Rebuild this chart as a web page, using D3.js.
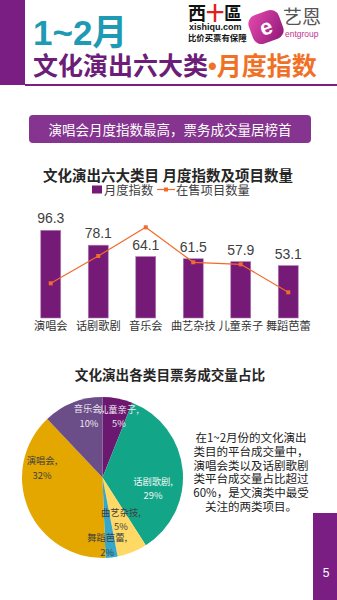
<!DOCTYPE html>
<html><head><meta charset="utf-8">
<script src="https://cdn.jsdelivr.net/npm/d3@7"></script>
<style>
body{margin:0;background:#fff}
svg{display:block}
text{font-family:"Noto Sans CJK SC","Liberation Sans",sans-serif}
</style>
</head><body>
<svg id="c" width="337" height="600"></svg>
<script>
// ---------- data ----------
const barCategories = ["演唱会","话剧歌剧","音乐会","曲艺杂技","儿童亲子","舞蹈芭蕾"];
const indexValues   = [96.3, 78.1, 64.1, 61.5, 57.9, 53.1];
const projectCounts = [347, 620, 907, 557, 537, 257];
const seriesNames   = ["月度指数","在售项目数量"];

const pieCategories = ["儿童亲子","话剧歌剧","曲艺杂技","舞蹈芭蕾","演唱会","音乐会"];
const pieShares     = [5, 29, 5, 2, 32, 10];

const noteLines = ["在1~2月份的文化演出","类目的平台成交量中，","演唱会类以及话剧歌剧","类平台成交量占比超过","60%，是文演类中最受","关注的两类项目。"];

// ---------- setup ----------
const svg = d3.select("#c");
const PURPLE = "#7a1e84";

// header
svg.append("rect").attr("x",0).attr("y",0).attr("width",25).attr("height",85).attr("fill",PURPLE);
svg.append("rect").attr("x",25).attr("y",84).attr("width",312).attr("height",2).attr("fill",PURPLE);
svg.append("text").attr("x",33).attr("y",45)
  .attr("font-size",35).attr("font-weight",700).attr("fill","#1f9ab4")
  .style("font-family","'Liberation Sans','Noto Sans CJK SC',sans-serif")
  .text("1~2月");
const t2 = svg.append("text").attr("x",33).attr("y",75).attr("font-size",25).attr("font-weight",700);
t2.append("tspan").attr("fill","#6c1d78").text("文化演出六大类");
t2.append("tspan").attr("fill","#f07025").style("font-family","'Liberation Sans',sans-serif").text("•");
t2.append("tspan").attr("fill","#f07025").text("月度指数");

// logos
const l1 = svg.append("text").attr("x",188).attr("y",20).attr("font-size",18).attr("font-weight",700);
l1.append("tspan").attr("fill","#111").text("西");
l1.append("tspan").attr("fill","#e0201a").text("十");
l1.append("tspan").attr("fill","#111").text("區");
svg.append("text").attr("x",189).attr("y",30).attr("font-size",9).attr("font-weight",700).attr("fill","#111")
  .style("font-family","'Liberation Sans',sans-serif").text("xishiqu.com");
svg.append("text").attr("x",188).attr("y",40.5).attr("font-size",8.4).attr("font-weight",700).attr("fill","#111").text("比价买票有保障");

const defs = svg.append("defs");
const g1 = defs.append("linearGradient").attr("id","mg").attr("x1",0).attr("y1",0).attr("x2",1).attr("y2",1);
g1.append("stop").attr("offset","0%").attr("stop-color","#e64aae");
g1.append("stop").attr("offset","100%").attr("stop-color","#8e1877");
svg.append("rect").attr("x",-16).attr("y",-15).attr("width",32).attr("height",30).attr("rx",9)
  .attr("transform","translate(266,27) rotate(-20)").attr("fill","url(#mg)");
svg.append("text").attr("x",266).attr("y",27).attr("text-anchor","middle").attr("dominant-baseline","central")
  .attr("font-size",22).attr("font-weight",700).attr("fill","#fff")
  .attr("transform","rotate(-20,266,27)")
  .style("font-family","'Liberation Sans',sans-serif").text("e");
svg.append("text").attr("x",283).attr("y",24).attr("font-size",19).attr("fill","#555").text("艺恩");
svg.append("text").attr("x",285).attr("y",37).attr("font-size",8.5).attr("fill","#c2338f")
  .style("font-family","'Liberation Sans',sans-serif").text("entgroup");

// banner
svg.append("rect").attr("x",29).attr("y",115).attr("width",282).attr("height",28).attr("rx",4).attr("fill","#85358f");
svg.append("text").attr("x",170).attr("y",129).attr("text-anchor","middle").attr("dominant-baseline","central")
  .attr("font-size",13.5).attr("fill","#fff").text("演唱会月度指数最高，票务成交量居榜首");

// ---------- bar + line chart ----------
svg.append("text").attr("x",168).attr("y",174.5).attr("text-anchor","middle").attr("dominant-baseline","central")
  .attr("font-size",14.5).attr("font-weight",700).attr("fill","#262626").text("文化演出六大类目 月度指数及项目数量");

// legend
const lg = svg.append("g");
lg.append("rect").attr("x",92).attr("y",185.5).attr("width",10).attr("height",8).attr("fill","#761a78");
lg.append("text").attr("x",104).attr("y",189.5).attr("dominant-baseline","central").attr("font-size",12.3).attr("fill","#404040").text(seriesNames[0]);
lg.append("line").attr("x1",157).attr("x2",175).attr("y1",189.5).attr("y2",189.5).attr("stroke","#f26b2d").attr("stroke-width",1.2);
lg.append("rect").attr("x",164).attr("y",187.5).attr("width",4).attr("height",4).attr("fill","#f26b2d");
lg.append("text").attr("x",176).attr("y",189.5).attr("dominant-baseline","central").attr("font-size",12.3).attr("fill","#404040").text(seriesNames[1]);

const x = d3.scaleBand().domain(barCategories).range([27,312]).paddingInner(0.58).paddingOuter(0.29);
const y = d3.scaleLinear().domain([-11,100]).range([318,227.3]);
const y2 = d3.scaleLinear().domain([0,1000]).range([318,218]);

svg.append("g").selectAll("rect").data(barCategories).join("rect")
  .attr("x",d=>x(d)).attr("width",x.bandwidth())
  .attr("y",(d,i)=>y(indexValues[i])).attr("height",(d,i)=>y(-11)-y(indexValues[i]))
  .attr("fill","#761a78").attr("stroke","#b07ab3").attr("stroke-width",0.6);

svg.append("g").selectAll("text").data(barCategories).join("text")
  .attr("x",d=>x(d)+x.bandwidth()/2).attr("y",(d,i)=>y(indexValues[i])-12)
  .attr("text-anchor","middle").attr("dominant-baseline","central")
  .attr("font-size",14).attr("fill","#404040")
  .style("font-family","'Liberation Sans','Noto Sans CJK SC',sans-serif")
  .text((d,i)=>indexValues[i].toFixed(1));

const line = d3.line().x((d,i)=>x(barCategories[i])+x.bandwidth()/2).y(d=>y2(d));
svg.append("path").datum(projectCounts).attr("d",line).attr("fill","none").attr("stroke","#f26b2d").attr("stroke-width",1.2);
svg.append("g").selectAll("rect").data(projectCounts).join("rect")
  .attr("x",(d,i)=>x(barCategories[i])+x.bandwidth()/2-2).attr("y",d=>y2(d)-2)
  .attr("width",4).attr("height",4).attr("fill","#f26b2d");

const xAxis = svg.append("g").attr("transform","translate(0,318)")
  .call(d3.axisBottom(x).tickSize(0).tickPadding(4));
xAxis.select(".domain").remove();
xAxis.selectAll("text").attr("font-size",11.2).attr("fill","#333")
  .style("font-family","'Noto Sans CJK SC',sans-serif");

// ---------- pie ----------
svg.append("text").attr("x",170).attr("y",374).attr("text-anchor","middle").attr("dominant-baseline","central")
  .attr("font-size",13.6).attr("font-weight",700).attr("fill","#262626").text("文化演出各类目票务成交量占比");

const pieColors = {"儿童亲子":"#6c1870","话剧歌剧":"#12a587","曲艺杂技":"#ffd966","舞蹈芭蕾":"#35a8ca","演唱会":"#e3a700","音乐会":"#6b4d87"};
const labelColors = {"儿童亲子":"#eee6f0","话剧歌剧":"#eef8f5","曲艺杂技":"#404040","舞蹈芭蕾":"#404040","演唱会":"#404040","音乐会":"#eee6f0"};
// best-fit label placement: [radius, angle shift in degrees]
const labelFit = {"儿童亲子":[64,4],"话剧歌剧":[51.6,17],"曲艺杂技":[45.4,-2.3],"舞蹈芭蕾":[66.7,2.5],"演唱会":[61.4,32.6],"音乐会":[63.5,9.4]};

const R = 80.5, cx = 102.5, cy = 477.5;
const pie = d3.pie().sort(null).value((d,i)=>pieShares[i]);
const arcs = pie(pieCategories);
const arc = d3.arc().innerRadius(0).outerRadius(R);
const pg = svg.append("g").attr("transform",`translate(${cx},${cy})`);
pg.selectAll("path").data(arcs).join("path").attr("d",arc).attr("fill",d=>pieColors[d.data]);

const lab = pg.selectAll("g.lab").data(arcs).join("g").attr("class","lab")
  .attr("transform",d=>{
    const f = labelFit[d.data];
    const a = (d.startAngle+d.endAngle)/2 + f[1]*Math.PI/180;
    const c = d3.arc().innerRadius(f[0]).outerRadius(f[0]).startAngle(a).endAngle(a).centroid();
    return `translate(${c[0]},${c[1]})`;
  });
lab.append("text").attr("y",-7).attr("text-anchor","middle").attr("dominant-baseline","central")
  .attr("font-size",9.3).attr("fill",d=>labelColors[d.data]).text(d=>d.data+",");
lab.append("text").attr("y",7.5).attr("text-anchor","middle").attr("dominant-baseline","central")
  .attr("font-size",9.3).attr("fill",d=>labelColors[d.data]).text((d,i)=>pieShares[i]+"%");

// note text
svg.append("g").selectAll("text").data(noteLines).join("text")
  .attr("x",251).attr("y",(d,i)=>437+i*13.8).attr("text-anchor","middle").attr("dominant-baseline","central")
  .attr("font-size",11.5).attr("fill","#222").text(d=>d);

// page number
svg.append("rect").attr("x",313).attr("y",513).attr("width",24).attr("height",87).attr("fill",PURPLE);
svg.append("text").attr("x",326).attr("y",573).attr("text-anchor","middle").attr("dominant-baseline","central")
  .attr("font-size",12).attr("fill","#fff").style("font-family","'Liberation Sans',sans-serif").text("5");
</script>
</body></html>
